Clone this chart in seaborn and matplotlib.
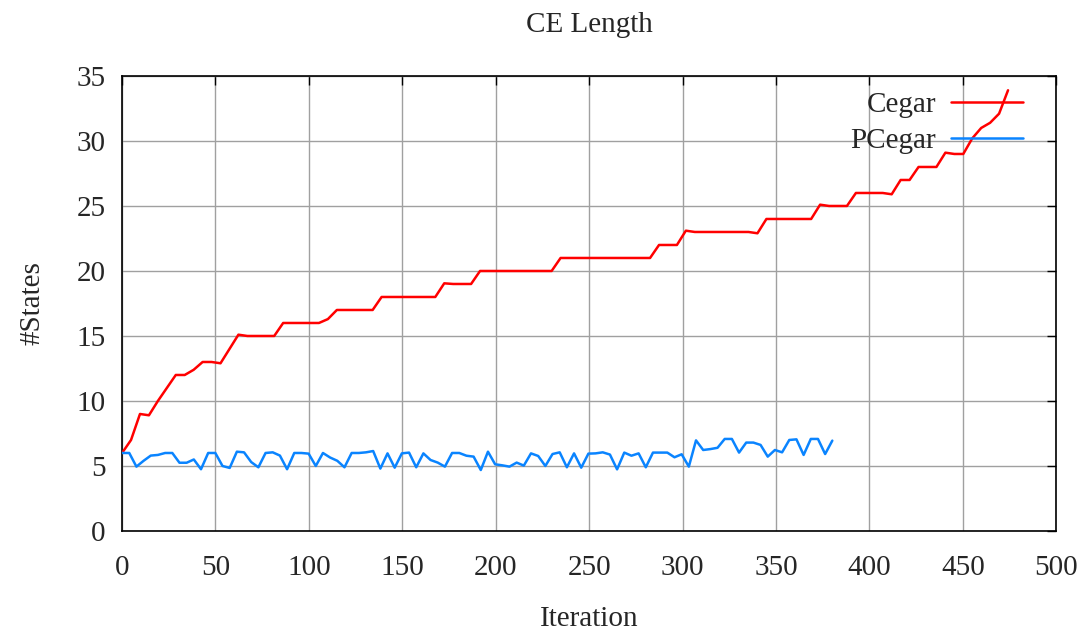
"""CE length per iteration for Cegar vs PCegar."""

import matplotlib.pyplot as plt
import numpy as np
import pandas as pd
import seaborn as sns

# iteration spacing between recorded samples (100 samples per run)
cegar_step = 4.79
pcegar_step = 3.84

cegar_states = [
    6, 7, 9, 8.9, 10, 11, 12, 12, 12.4, 13,
    13, 12.9, 14, 15.1, 15, 15, 15, 15, 16, 16,
    16, 16, 16, 16.3, 17, 17, 17, 17, 17, 18,
    18, 18, 18, 18, 18, 18, 19.05, 19, 19, 19,
    20, 20, 20, 20, 20, 20, 20, 20, 20, 21,
    21, 21, 21, 21, 21, 21, 21, 21, 21, 21,
    22, 22, 22, 23.1, 23, 23, 23, 23, 23, 23,
    23, 22.9, 24, 24, 24, 24, 24, 24, 25.1, 25,
    25, 25, 26, 26, 26, 26, 25.9, 27, 27, 28,
    28, 28, 29.1, 29, 29, 30.2, 31, 31.4, 32.1, 33.9,
]

pcegar_states = [
    6.0, 6.0, 4.95, 5.4, 5.8, 5.85, 6.0, 6.0, 5.25, 5.25,
    5.5, 4.75, 6.0, 6.0, 5.0, 4.85, 6.1, 6.05, 5.3, 4.9,
    6.0, 6.05, 5.8, 4.75, 6.0, 6.0, 5.95, 5.0, 6.0, 5.65,
    5.4, 4.9, 6.0, 6.0, 6.05, 6.15, 4.8, 5.97, 4.87, 5.97,
    6.03, 4.9, 5.97, 5.46, 5.26, 4.95, 6.0, 6.0, 5.79, 5.72,
    4.69, 6.1, 5.13, 5.05, 4.95, 5.26, 5.03, 5.97, 5.77, 5.0,
    5.92, 6.05, 4.9, 5.97, 4.87, 5.95, 5.97, 6.05, 5.88, 4.74,
    6.03, 5.79, 5.97, 4.9, 6.03, 6.03, 6.03, 5.67, 5.9, 4.95,
    6.97, 6.23, 6.3, 6.4, 7.08, 7.08, 6.03, 6.8, 6.8, 6.62,
    5.72, 6.23, 6.05, 7.0, 7.05, 5.85, 7.08, 7.08, 5.92, 6.95,
]

series_colors = {'Cegar': '#ff0000', 'PCegar': '#0a84ff'}
x_ticks = np.arange(0, 501, 50)
y_ticks = np.arange(0, 36, 5)


def build_frame() -> pd.DataFrame:
    """Long-format table with one row per sample."""
    cegar = pd.DataFrame({
        'Iteration': np.arange(len(cegar_states)) * cegar_step,
        '#States': cegar_states,
        'Run': 'Cegar'})
    pcegar = pd.DataFrame({
        'Iteration': np.arange(len(pcegar_states)) * pcegar_step,
        '#States': pcegar_states,
        'Run': 'PCegar'})
    return pd.concat([cegar, pcegar], ignore_index = True)


def plot_ce_length(df: pd.DataFrame) -> None:
    sns.set_style('white')
    plt.rcParams['font.family'] = ['Liberation Serif', 'DejaVu Serif']

    fig = plt.figure(figsize = (10.9, 6.31), dpi = 100)
    ax = fig.add_axes([0.112, 0.1585, 0.857, 0.7211])

    sns.lineplot(
        data = df,
        x = 'Iteration',
        y = '#States',
        hue = 'Run',
        palette = series_colors,
        linewidth = 1.8,
        estimator = None,
        sort = False,
        ax = ax,
        zorder = 3)

    ax.set_xlim(0, 500)
    ax.set_ylim(0, 35)
    ax.set_xticks(x_ticks)
    ax.set_yticks(y_ticks)
    ax.grid(True, color = '#a0a0a0', linewidth = 1.0)
    ax.set_axisbelow(True)
    for spine in ax.spines.values():
        spine.set_visible(True)
        spine.set_color('black')
        spine.set_linewidth(1.2)
    ax.tick_params(
        direction = 'in', length = 6.5, width = 1.0, color = 'black',
        top = True, right = True, labelsize = 21)
    ax.tick_params(axis = 'x', pad = 17)
    ax.tick_params(axis = 'y', pad = 12)

    ax.set_title('CE Length', fontsize = 21, pad = 32)
    ax.set_xlabel('Iteration', fontsize = 21, labelpad = 18)
    ax.set_ylabel('#States', fontsize = 21, labelpad = 22)

    handles, labels = ax.get_legend_handles_labels()
    ax.legend(
        handles, labels,
        loc = 'upper right',
        bbox_to_anchor = (0.993, 1.024),
        frameon = False,
        markerfirst = False,
        handlelength = 2.5,
        handletextpad = 0.5,
        labelspacing = 0.35,
        fontsize = 21)

    fig.savefig('out.png', dpi = 100)
    return


plot_ce_length(build_frame())
